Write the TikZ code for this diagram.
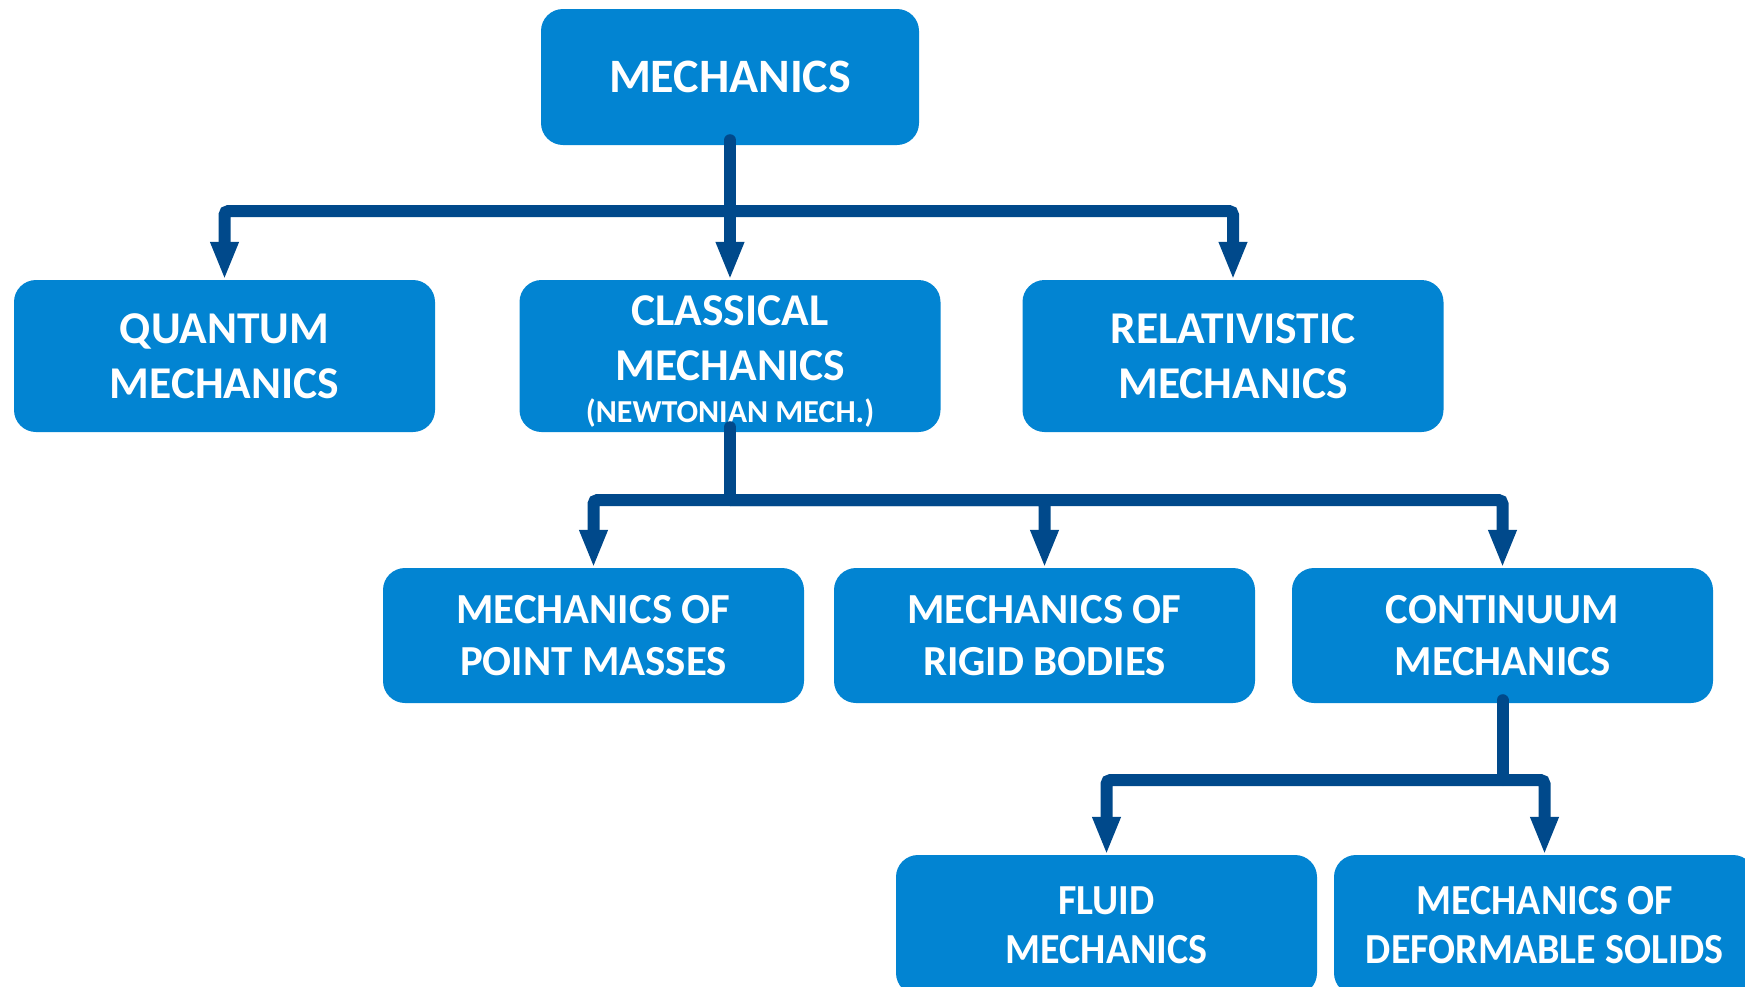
\documentclass[tikz,border=0pt]{standalone}
\usepackage{fontspec}
\setmainfont{Carlito}
\usetikzlibrary{arrows.meta}
\definecolor{boxblue}{RGB}{2,132,210}
\definecolor{linkblue}{RGB}{0,73,139}
\newcommand{\fsz}[2]{\fontsize{#1}{#2}\selectfont}
\newcommand{\cond}[1]{\scalebox{0.935}[1]{#1}}
\tikzset{
  box/.style={rectangle, rounded corners=22pt, fill=boxblue, text=white,
    align=center, inner sep=0pt, minimum width=421pt},
  lvtop/.style={box, minimum width=378pt, minimum height=136pt, font=\bfseries\fsz{48}{57}},
  lvtwo/.style={box, minimum height=152pt, font=\bfseries\fsz{45.5}{55}},
  lvthree/.style={box, minimum height=135pt, font=\bfseries\fsz{42.8}{52}},
  lvfour/.style={box, minimum height=140pt, font=\bfseries\fsz{42.8}{49}},
  conn/.style={draw=linkblue, line width=12pt, rounded corners=4pt,
    -{Triangle[width=26pt,length=38pt]}},
  trunk/.style={draw=linkblue, line width=12pt, line cap=round}
}
\begin{document}
\begin{tikzpicture}[x=1pt,y=-1pt]
\useasboundingbox (0,0) rectangle (1745,986);
\clip (0,0) rectangle (1745,986);

% boxes
\node[lvtop] (mech) at (730,77) {MECHANICS};
\node[lvtwo] (quant) at (224.5,356) {QUANTUM\\MECHANICS};
\node[lvtwo] (class) at (730,356) {\rule{0pt}{41pt}CLASSICAL\\MECHANICS\\[-13pt]{\fsz{32}{38}(NEWTONIAN MECH.)}};
\node[lvtwo] (relat) at (1233,356) {RELATIVISTIC\\MECHANICS};
\node[lvthree] (point) at (593.5,635.5) {MECHANICS OF\\POINT MASSES};
\node[lvthree] (rigid) at (1044.5,635.5) {MECHANICS OF\\RIGID BODIES};
\node[lvthree] (cont) at (1502.5,635.5) {CONTINUUM\\MECHANICS};
\node[lvfour] (fluid) at (1106.5,925) {\cond{FLUID}\\\cond{MECHANICS}};
\node[lvfour] (defo) at (1544.5,925) {\cond{MECHANICS OF}\\\cond{DEFORMABLE SOLIDS}};

% junctions
\coordinate (j1) at (730,211);
\coordinate (j2) at (730,500);
\coordinate (j3) at (1502.5,780);

% level 1 connectors
\draw[conn, line cap=round] ([yshift=5pt]mech.south) -- (class.north);
\draw[conn] (j1) -| (quant.north);
\draw[conn] (j1) -| (relat.north);

% level 2 connectors
\draw[trunk] ([yshift=5pt]class.south) -- (j2);
\draw[conn] (j2) -| (point.north);
\draw[conn] (j2) -| (rigid.north);
\draw[conn] (j2) -| (cont.north);

% level 3 connectors
\draw[trunk] ([yshift=3pt]cont.south) -- (j3);
\draw[conn] (j3) -| (fluid.north);
\draw[conn] (j3) -| (defo.north);
\end{tikzpicture}
\end{document}
